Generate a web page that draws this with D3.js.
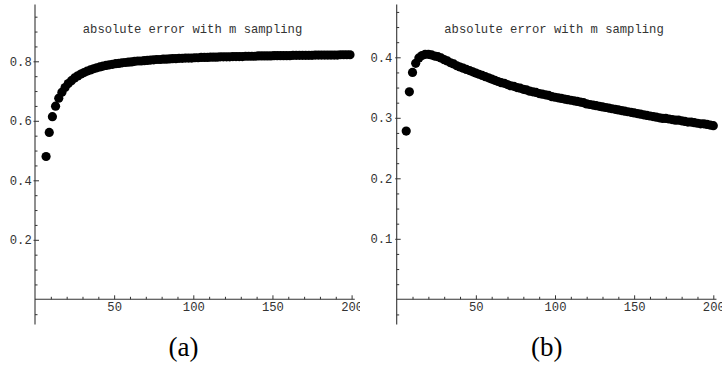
<!DOCTYPE html>
<html><head><meta charset="utf-8">
<script src="https://cdn.jsdelivr.net/npm/d3@7"></script>
<style>body{margin:0;background:#fff}svg{display:block}</style>
</head><body><div id="c"></div>
<script>
// ---- data ----
const titleText = "absolute error with m sampling";
const captions = ["(a)", "(b)"];
const xTicks = [50, 100, 150, 200];
const xMinor = [10,20,30,40,60,70,80,90,110,120,130,140,160,170,180,190];
const yTicksA = [0.2, 0.4, 0.6, 0.8];
const yMinorA = [-0.05,0.05,0.1,0.15,0.25,0.3,0.35,0.45,0.5,0.55,0.65,0.7,0.75,0.85,0.9,0.95];
const yTicksB = [0.1, 0.2, 0.3, 0.4];
const yMinorB = [-0.025,0.025,0.05,0.075,0.125,0.15,0.175,0.225,0.25,0.275,0.325,0.35,0.375,0.425,0.45,0.475];

const mA = [7,9,11,13,15,17,19,21,23,25,
  27,29,31,33,35,37,39,41,43,45,
  47,49,51,53,55,57,59,61,63,65,
  67,69,71,73,75,77,79,81,83,85,
  87,89,91,93,95,97,99,101,103,105,
  107,109,111,113,115,117,119,121,123,125,
  127,129,131,133,135,137,139,141,143,145,
  147,149,151,153,155,157,159,161,163,165,
  167,169,171,173,175,177,179,181,183,185,
  187,189,191,193,195,197,199];
const errA = [0.480,0.561,0.614,0.649,0.676,0.696,0.712,0.725,0.735,0.744,
  0.751,0.757,0.762,0.767,0.771,0.775,0.778,0.781,0.784,0.786,
  0.788,0.790,0.792,0.793,0.795,0.796,0.797,0.798,0.800,0.801,
  0.801,0.802,0.803,0.804,0.805,0.806,0.806,0.807,0.807,0.808,
  0.809,0.809,0.810,0.810,0.811,0.811,0.811,0.812,0.812,0.813,
  0.813,0.813,0.814,0.814,0.814,0.815,0.815,0.815,0.815,0.816,
  0.816,0.816,0.816,0.817,0.817,0.817,0.817,0.818,0.818,0.818,
  0.818,0.818,0.819,0.819,0.819,0.819,0.819,0.819,0.820,0.820,
  0.820,0.820,0.820,0.820,0.820,0.821,0.821,0.821,0.821,0.821,
  0.821,0.821,0.821,0.822,0.822,0.822,0.822];

const mB = [6,8,10,12,14,16,18,20,22,24,
  26,28,30,32,34,36,38,40,42,44,
  46,48,50,52,54,56,58,60,62,64,
  66,68,70,72,74,76,78,80,82,84,
  86,88,90,92,94,96,98,100,102,104,
  106,108,110,112,114,116,118,120,122,124,
  126,128,130,132,134,136,138,140,142,144,
  146,148,150,152,154,156,158,160,162,164,
  166,168,170,172,174,176,178,180,182,184,
  186,188,190,192,194,196,198,200];
const errB = [0.278,0.343,0.375,0.390,0.399,0.403,0.405,0.405,0.404,0.402,
  0.401,0.399,0.396,0.394,0.391,0.389,0.386,0.384,0.382,0.380,
  0.378,0.376,0.374,0.372,0.370,0.368,0.366,0.364,0.362,0.360,
  0.358,0.357,0.355,0.353,0.352,0.350,0.349,0.347,0.346,0.344,
  0.343,0.342,0.340,0.339,0.338,0.337,0.335,0.334,0.333,0.332,
  0.331,0.330,0.329,0.328,0.327,0.326,0.325,0.323,0.322,0.321,
  0.320,0.319,0.318,0.317,0.316,0.315,0.314,0.313,0.312,0.311,
  0.310,0.309,0.308,0.307,0.306,0.305,0.304,0.303,0.302,0.301,
  0.300,0.299,0.299,0.298,0.297,0.296,0.296,0.295,0.294,0.293,
  0.293,0.292,0.291,0.290,0.290,0.289,0.288,0.287];

// ---- drawing ----
const W = 722, H = 367;
const root = d3.select('#c').append('svg').attr('width', W).attr('height', H);
const monoFont = '"Liberation Mono","DejaVu Sans Mono",monospace';
const ink = '#333';

function panel(cfg) {
  const g = root.append('svg').attr('x', cfg.x0).attr('y', 0)
    .attr('width', cfg.w).attr('height', H).style('overflow', 'hidden');
  const x = d3.scaleLinear().domain([0, 200]).range([cfg.ax, cfg.ax + 316.6]);
  const y = d3.scaleLinear().domain([0, cfg.yRef]).range([299.3, cfg.yRefPx]);

  // axis lines
  g.append('line').attr('x1', x(0)).attr('x2', x(202)).attr('y1', y(0)).attr('y2', y(0))
    .attr('stroke', ink).attr('stroke-width', 1.1);
  g.append('line').attr('x1', x(0)).attr('x2', x(0)).attr('y1', 4.5).attr('y2', 324.5)
    .attr('stroke', ink).attr('stroke-width', 1.1);

  // x axis ticks
  const xa = g.append('g').attr('transform', `translate(0,${y(0)})`)
    .call(d3.axisBottom(x).tickValues(xTicks).tickSize(-4).tickPadding(3.3).tickFormat(d3.format('d')));
  const xm = g.append('g').attr('transform', `translate(0,${y(0)})`)
    .call(d3.axisBottom(x).tickValues(xMinor).tickSize(-2.5).tickFormat(''));
  // y axis ticks
  const ya = g.append('g').attr('transform', `translate(${x(0)},0)`)
    .call(d3.axisLeft(y).tickValues(cfg.yTicks).tickSize(-4).tickPadding(cfg.yPad).tickFormat(d3.format('.1f')));
  const ym = g.append('g').attr('transform', `translate(${x(0)},0)`)
    .call(d3.axisLeft(y).tickValues(cfg.yMinor).tickSize(-2.5).tickFormat(''));
  [xa, xm, ya, ym].forEach(a => {
    a.select('.domain').remove();
    a.selectAll('line').attr('stroke', ink).attr('stroke-width', 1);
    a.selectAll('text').attr('font-family', monoFont).attr('font-size', 12.2).attr('fill', ink);
  });
  // major y ticks slightly outward as well
  ya.selectAll('.tick').append('line').attr('x1', -1.5).attr('x2', 0).attr('stroke', ink);

  // points
  g.append('g').selectAll('circle').data(cfg.m.map((m, i) => [m, cfg.v[i]]))
    .join('circle').attr('cx', d => x(d[0])).attr('cy', d => y(d[1])).attr('r', 4.6).attr('fill', '#000');

  // title
  g.append('text').attr('x', cfg.titleX).attr('y', 33).attr('text-anchor', 'middle')
    .attr('font-family', monoFont).attr('font-size', 12.2).attr('fill', ink).text(titleText);

  // caption
  g.append('text').attr('x', cfg.capX).attr('y', 356).attr('text-anchor', 'middle')
    .attr('font-family', '"Liberation Serif","DejaVu Serif",serif').attr('font-size', 27)
    .attr('fill', '#000').text(cfg.caption);
}

panel({x0: 0, w: 360, ax: 35, yRef: 0.8, yRefPx: 61.3, yTicks: yTicksA, yMinor: yMinorA,
  yPad: 3.3, m: mA, v: errA, titleX: 192.5, capX: 183.5, caption: captions[0]});
panel({x0: 360, w: 362, ax: 36.7, yRef: 0.4, yRefPx: 57.3, yTicks: yTicksB, yMinor: yMinorB,
  yPad: 4.3, m: mB, v: errB, titleX: 194, capX: 186.7, caption: captions[1]});
</script>
</body></html>
